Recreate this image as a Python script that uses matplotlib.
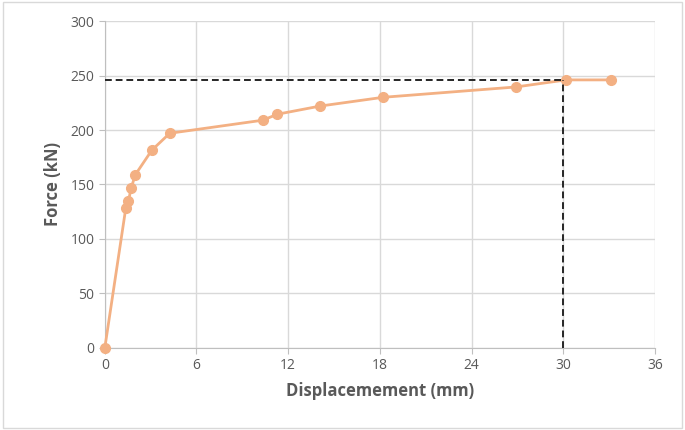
import matplotlib
matplotlib.use("Agg")
import matplotlib.pyplot as plt
from matplotlib.patches import Rectangle

displacement = [0, 1.37, 1.55, 1.73, 2.0, 3.08, 4.25, 10.34, 11.3, 14.1, 18.2, 26.9, 30.2, 33.1]
force = [0, 128, 135, 147, 159, 181.5, 197, 209, 214.5, 222, 230, 239.5, 246, 246]
ref_x = 30
ref_y = 246
x_ticks = [0, 6, 12, 18, 24, 30, 36]
y_ticks = [0, 50, 100, 150, 200, 250, 300]

plt.rcParams['font.family'] = ['Open Sans', 'DejaVu Sans']

fig = plt.figure(figsize=(6.85, 4.3), dpi=100)
fig.patches.append(Rectangle((0.004, 0.005), 0.992, 0.99, transform=fig.transFigure,
                             fill=False, edgecolor='#d9d9d9', linewidth=1.0))
ax = fig.add_axes([0.153, 0.191, 0.803, 0.760])

color = '#F3B083'
ax.plot(displacement, force, color=color, linewidth=2, marker='o', markersize=7,
        markerfacecolor=color, markeredgecolor=color, zorder=3, clip_on=False)
ax.plot([0, ref_x], [ref_y, ref_y], color='#262626', linestyle=(0, (3.5, 2)), linewidth=1.4, zorder=4)
ax.plot([ref_x, ref_x], [0, ref_y], color='#262626', linestyle=(0, (3.5, 2)), linewidth=1.4, zorder=4)

ax.set_xlim(0, 36)
ax.set_ylim(0, 300)
ax.set_xticks(x_ticks)
ax.set_yticks(y_ticks)
ax.grid(True, color='#d9d9d9', linewidth=1)
ax.set_axisbelow(True)
for s in ['top', 'right']:
    ax.spines[s].set_visible(False)
for s in ['left', 'bottom']:
    ax.spines[s].set_color('#bfbfbf')
ax.tick_params(colors='#595959', labelsize=10, length=4, color='#bfbfbf')
ax.set_xlabel('Displacemement (mm)', fontsize=12, fontweight='bold', color='#595959', labelpad=6)
ax.set_ylabel('Force (kN)', fontsize=12, fontweight='bold', color='#595959', labelpad=6)

fig.savefig('out.png', dpi=100)
